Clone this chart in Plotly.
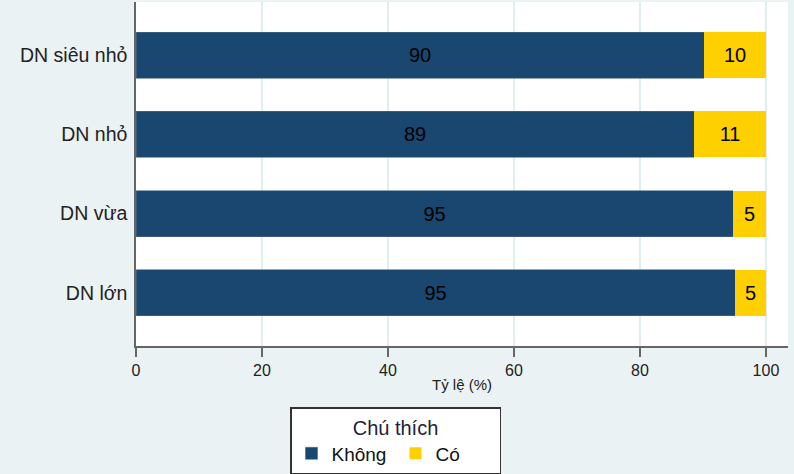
import plotly.graph_objects as go

categories = ["DN siêu nhỏ", "DN nhỏ", "DN vừa", "DN lớn"]
khong = [90.2, 88.6, 94.8, 95.1]
co = [9.8, 11.4, 5.2, 4.9]
khong_labels = ["90", "89", "95", "95"]
co_labels = ["10", "11", "5", "5"]
x_ticks = [0, 20, 40, 60, 80, 100]

BLUE = "#1a476f"
YELLOW = "#ffd000"
BG = "#eaf2f3"
FONT = "Liberation Sans, Arial, sans-serif"

fig = go.Figure()
fig.add_trace(go.Bar(
    y=categories, x=khong, name="Không", orientation="h",
    marker=dict(color=BLUE, line=dict(width=0.6, color="#4a6d8c")),
    text=khong_labels, textposition="inside", insidetextanchor="middle",
    textfont=dict(color="black", size=20, family=FONT),
    constraintext="none",
))
fig.add_trace(go.Bar(
    y=categories, x=co, name="Có", orientation="h",
    marker=dict(color=YELLOW, line=dict(width=0)),
    text=co_labels, textposition="inside", insidetextanchor="middle",
    textfont=dict(color="black", size=20, family=FONT),
    constraintext="none",
))

fig.update_layout(
    width=794, height=474,
    barmode="stack", bargap=0.42,
    paper_bgcolor=BG, plot_bgcolor="white",
    margin=dict(l=136, r=6, t=2, b=128, autoexpand=False),
    font=dict(family=FONT, color="#222222"),
    showlegend=True,
    legend=dict(
        orientation="h",
        x=(290 - 136) / 652, xanchor="left", y=(346 - 407) / 344, yanchor="top",
        bgcolor="white", bordercolor="#333333", borderwidth=1.5,
        title=dict(text="Chú thích", side="top center", font=dict(size=20, color="#22223a")),
        font=dict(size=19, color="#111111"),
        traceorder="normal",
        entrywidth=59,
    ),
    xaxis=dict(
        range=[0, 103.5], tickvals=x_ticks, showgrid=True, gridcolor="#e3ecef", gridwidth=1.5,
        zeroline=False, showline=True, linecolor="#666666", linewidth=1.5,
        ticks="outside", ticklen=9, tickcolor="#666666", tickwidth=1.5,
        tickfont=dict(size=16, color="#222222"),
        automargin=False,
        title=dict(text="Tỷ lệ (%)", font=dict(size=15, color="#222222"), standoff=2),
    ),
    yaxis=dict(
        range=[3.67, -0.67], type="category", showgrid=False, zeroline=False,
        showline=True, linecolor="#666666", linewidth=1.5,
        ticks="", ticklabelstandoff=3, automargin=False,
        tickfont=dict(size=19.5, color="#222222"),
    ),
)

fig.write_html(
    "out.html",
    config={"displayModeBar": False},
    post_script="document.body.style.margin='0';document.body.style.overflow='hidden';",
)
